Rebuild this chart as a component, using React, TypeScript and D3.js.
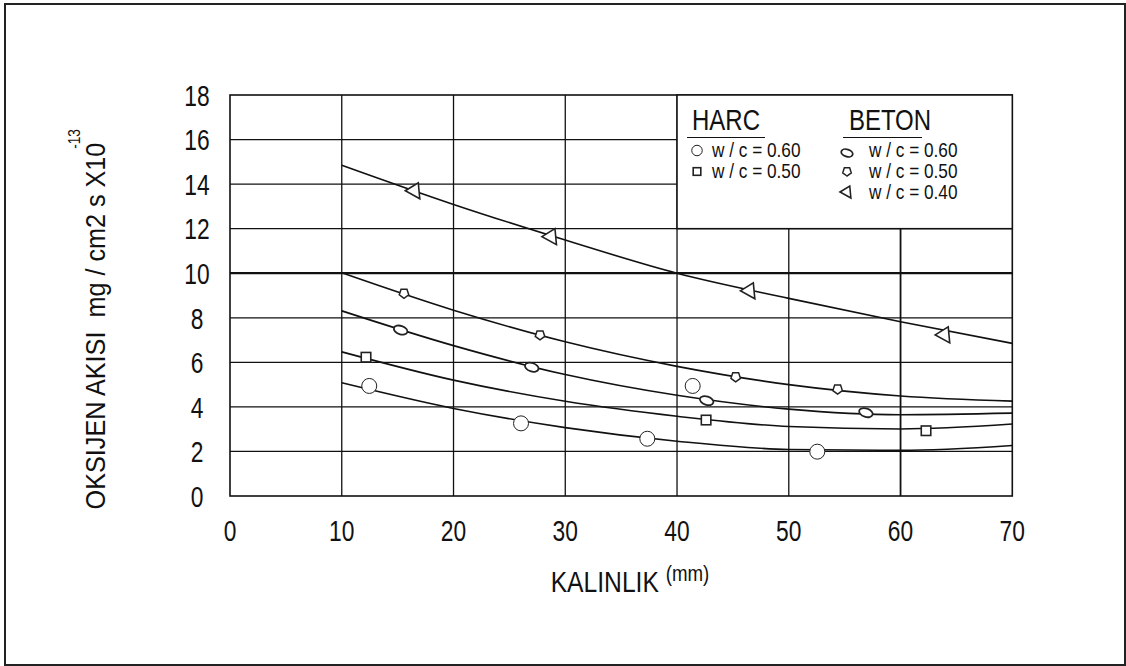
import React from 'react';
import * as d3 from 'd3';

// x ticks (mm) and y ticks (flux x 10^-13)
const xTicks = [0, 10, 20, 30, 40, 50, 60, 70];
const yTicks = [0, 2, 4, 6, 8, 10, 12, 14, 16, 18];

// fitted curves
const curveTriangle: [number, number][] = [[10, 14.85], [20, 13.09], [30, 11.49], [40, 10.0], [50, 8.87], [60, 7.82], [70, 6.85]];
const curvePentagon: [number, number][] = [[10, 10.02], [20, 8.34], [30, 6.92], [40, 5.82], [50, 5.0], [60, 4.49], [70, 4.26]];
const curveEllipse: [number, number][] = [[10, 8.31], [20, 6.75], [30, 5.45], [40, 4.52], [50, 3.9], [60, 3.65], [70, 3.72]];
const curveSquare: [number, number][] = [[10, 6.47], [20, 5.2], [30, 4.25], [40, 3.58], [50, 3.12], [60, 3.01], [70, 3.23]];
const curveCircle: [number, number][] = [[10, 5.08], [20, 3.93], [30, 3.07], [40, 2.46], [50, 2.09], [60, 2.05], [70, 2.27]];

// measured points
const harc060: [number, number][] = [[12.46, 4.94], [26.04, 3.26], [37.34, 2.57], [41.4, 4.94], [52.55, 1.99]];
const harc050: [number, number][] = [[12.17, 6.23], [42.6, 3.41], [62.28, 2.93]];
const beton060: [number, number][] = [[15.27, 7.45], [27.0, 5.78], [42.65, 4.28], [56.9, 3.74]];
const beton050: [number, number][] = [[15.57, 9.1], [27.74, 7.23], [45.25, 5.35], [54.37, 4.8]];
const beton040: [number, number][] = [[16.4, 13.7], [28.63, 11.64], [46.38, 9.21], [63.82, 7.23]];

const W = 1126;
const H = 666;
const FONT = "'Liberation Sans', Arial, sans-serif";

type Shape = 'circle' | 'square' | 'ellipse' | 'pentagon' | 'triangle';

// condensed text: no narrow font installed, so squeeze horizontally
const NText: React.FC<{
  x: number; y: number; size: number; sx?: number; rotate?: number;
  anchor?: 'start' | 'middle' | 'end'; dy?: string; children: React.ReactNode;
}> = ({ x, y, size, sx = 0.78, rotate = 0, anchor = 'start', dy, children }) => (
  <text
    transform={`translate(${x},${y}) rotate(${rotate}) scale(${sx},1)`}
    fontFamily={FONT} fontSize={size} fill="#111" textAnchor={anchor} dy={dy}
    style={{ whiteSpace: 'pre' }}
  >
    {children}
  </text>
);

const Marker: React.FC<{ shape: Shape; x: number; y: number; s?: number }> = ({ shape, x, y, s = 1 }) => {
  const common = { fill: '#fff', stroke: '#222' };
  if (shape === 'circle') {
    return <circle cx={x} cy={y} r={7.5 * s} {...common} strokeWidth={1} />;
  }
  if (shape === 'square') {
    const a = 9.5 * s;
    return <rect x={x - a / 2} y={y - a / 2} width={a} height={a} {...common} strokeWidth={1.6} />;
  }
  if (shape === 'ellipse') {
    return (
      <ellipse cx={0} cy={0} rx={7 * s} ry={4.2 * s} {...common} strokeWidth={1.8}
        transform={`translate(${x},${y}) rotate(18)`} />
    );
  }
  if (shape === 'pentagon') {
    const r = 5 * s;
    const pts = d3.range(5).map(i => {
      const a = Math.PI / 2 + (i * 2 * Math.PI) / 5;
      return `${x + r * Math.cos(a)},${y + r * Math.sin(a)}`;
    }).join(' ');
    return <polygon points={pts} {...common} strokeWidth={1.5} />;
  }
  // triangle pointing left
  const pts = [[-8, 0], [5, -8], [6.5, 8]].map(([dx, dy]) => `${x + dx * s},${y + dy * s}`).join(' ');
  return <polygon points={pts} {...common} strokeWidth={1.6} />;
};

export default function App() {
  const x = d3.scaleLinear().domain([0, 70]).range([230, 1012.3]);
  const y = d3.scaleLinear().domain([0, 18]).range([496, 95]);

  const line = d3.line<[number, number]>()
    .x(d => x(d[0]))
    .y(d => y(d[1]))
    .curve(d3.curveMonotoneX);

  const curves = [curveTriangle, curvePentagon, curveEllipse, curveSquare, curveCircle];
  const series: { shape: Shape; data: [number, number][] }[] = [
    { shape: 'circle', data: harc060 },
    { shape: 'square', data: harc050 },
    { shape: 'ellipse', data: beton060 },
    { shape: 'pentagon', data: beton050 },
    { shape: 'triangle', data: beton040 },
  ];

  const lx0 = x(40);
  const lx1 = x(70);
  const ly0 = y(18);
  const ly1 = y(12);

  return (
    <svg width={W} height={H} style={{ position: 'absolute', left: 0, top: 0, background: '#fff' }}>
      <rect x={5} y={4} width={1120} height={661} fill="#fff" stroke="#222" strokeWidth={2} />

      {/* grid */}
      {yTicks.filter(t => t > 0 && t < 18).map(t => (
        <line key={'h' + t} x1={x(0)} x2={x(70)} y1={y(t)} y2={y(t)}
          stroke="#111" strokeWidth={t === 10 ? 2.2 : 1.3} />
      ))}
      {xTicks.filter(t => t > 0 && t < 70).map(t => (
        <line key={'v' + t} x1={x(t)} x2={x(t)} y1={y(18)} y2={y(0)}
          stroke="#111" strokeWidth={t === 60 ? 1.8 : 1.3} />
      ))}
      <rect x={x(0)} y={y(18)} width={x(70) - x(0)} height={y(0) - y(18)} fill="none" stroke="#111" strokeWidth={1.6} />

      {/* curves */}
      {curves.map((c, i) => (
        <path key={'c' + i} d={line(c) || ''} fill="none" stroke="#111" strokeWidth={1.6} />
      ))}

      {/* points */}
      {series.map(s => s.data.map((d, j) => (
        <Marker key={s.shape + j} shape={s.shape} x={x(d[0])} y={y(d[1])} />
      )))}

      {/* legend */}
      <rect x={lx0} y={ly0} width={lx1 - lx0} height={ly1 - ly0} fill="#fff" stroke="#111" strokeWidth={1.5} />
      <NText x={726} y={130} size={30} sx={0.8} anchor="middle">HARC</NText>
      <line x1={687} x2={765} y1={137.5} y2={137.5} stroke="#111" strokeWidth={1.2} />
      <NText x={890} y={130} size={30} sx={0.8} anchor="middle">BETON</NText>
      <line x1={843} x2={922} y1={137.5} y2={137.5} stroke="#111" strokeWidth={1.2} />

      <Marker shape="circle" x={697} y={150.5} s={0.7} />
      <NText x={712} y={157} size={21} sx={0.82}>w / c = 0.60</NText>
      <Marker shape="square" x={697} y={171.5} s={0.8} />
      <NText x={712} y={178} size={21} sx={0.82}>w / c = 0.50</NText>

      <Marker shape="ellipse" x={847} y={153} s={0.85} />
      <NText x={869} y={157} size={21} sx={0.82}>w / c = 0.60</NText>
      <Marker shape="pentagon" x={847} y={171.5} s={0.9} />
      <NText x={869} y={178} size={21} sx={0.82}>w / c = 0.50</NText>
      <Marker shape="triangle" x={846} y={192} s={0.75} />
      <NText x={869} y={199} size={21} sx={0.82}>w / c = 0.40</NText>

      {/* tick labels */}
      {yTicks.map(t => (
        <NText key={'yl' + t} x={197} y={y(t)} dy="0.36em" size={30} sx={0.76} anchor="middle">{t}</NText>
      ))}
      {xTicks.map(t => (
        <NText key={'xl' + t} x={x(t)} y={541} size={30} sx={0.76} anchor="middle">{t}</NText>
      ))}

      {/* axis titles */}
      <NText x={630} y={592} size={29} sx={0.85} anchor="middle">
        KALINLIK <tspan fontSize={22} dy={-11}>(mm)</tspan>
      </NText>
      <NText x={105} y={326} size={28} sx={0.9} rotate={-90} anchor="middle">
        {'OKSIJEN AKISI  mg / cm2 s X10'}
      </NText>
      <NText x={80} y={139} size={16} sx={0.85} rotate={-90} anchor="middle">-13</NText>
    </svg>
  );
}
